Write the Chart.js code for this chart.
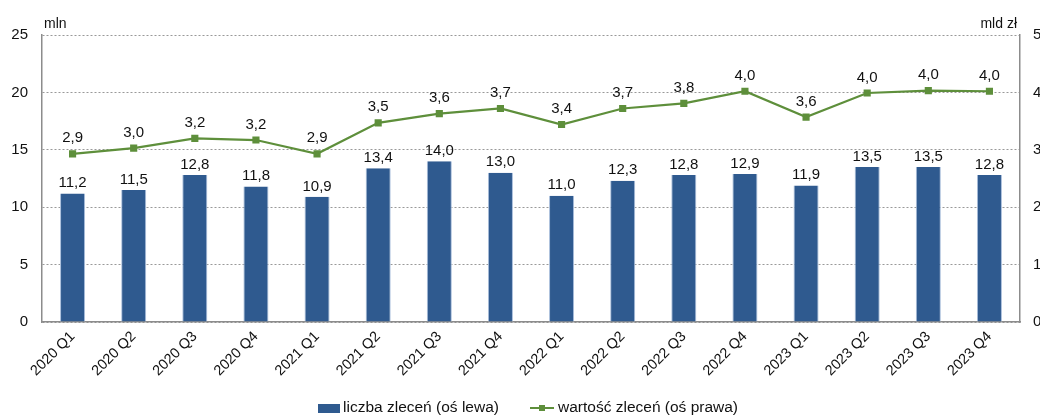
<!DOCTYPE html>
<html>
<head>
<meta charset="utf-8">
<script src="https://cdn.jsdelivr.net/npm/chart.js@4/dist/chart.umd.min.js"></script>
<style>
  html, body { margin: 0; padding: 0; background: #fff; overflow: hidden; }
  #wrap { width: 1050px; height: 417px; }
</style>
</head>
<body>
<div id="wrap"><canvas id="myChart" width="1050" height="417"></canvas></div>
<script>
const labels = ["2020 Q1", "2020 Q2", "2020 Q3", "2020 Q4", "2021 Q1", "2021 Q2", "2021 Q3", "2021 Q4",
                "2022 Q1", "2022 Q2", "2022 Q3", "2022 Q4", "2023 Q1", "2023 Q2", "2023 Q3", "2023 Q4"];
const liczba = [11.2, 11.5, 12.8, 11.8, 10.9, 13.4, 14.0, 13.0, 11.0, 12.3, 12.8, 12.9, 11.9, 13.5, 13.5, 12.8];
const wartosc = [2.93, 3.03, 3.20, 3.17, 2.93, 3.47, 3.63, 3.72, 3.44, 3.72, 3.81, 4.02, 3.57, 3.99, 4.03, 4.02];
const leftTicks = [0, 5, 10, 15, 20, 25];
const rightTicks = [0, 1, 2, 3, 4, 5];

const barColor = "#2F5A8F";
const lineColor = "#5E8F3B";
const FONT = "'Liberation Sans', Arial, sans-serif";

function fmt(v) {
  return v.toFixed(1).replace(".", ",");
}

// value labels, unit titles and the legend
const extras = {
  id: "extras",
  afterDatasetsDraw(chart) {
    const ctx = chart.ctx;
    const area = chart.chartArea;
    ctx.save();
    ctx.fillStyle = "#111";
    ctx.font = "15px " + FONT;
    ctx.textAlign = "center";
    ctx.textBaseline = "bottom";
    // dataset 1 = bars, dataset 0 = line
    chart.getDatasetMeta(1).data.forEach((el, i) => {
      ctx.fillText(fmt(liczba[i]), el.x, el.y - 3);
    });
    chart.getDatasetMeta(0).data.forEach((el, i) => {
      ctx.fillText(fmt(wartosc[i]), el.x, el.y - 8);
    });

    ctx.font = "14px " + FONT;
    ctx.textAlign = "left";
    ctx.fillText("mln", area.left + 2, area.top - 4);
    ctx.textAlign = "right";
    ctx.fillText("mld zł", area.right - 3, area.top - 4);

    // legend
    const ly = 408;
    ctx.font = "15.5px " + FONT;
    ctx.textBaseline = "middle";
    ctx.textAlign = "left";
    ctx.fillStyle = barColor;
    ctx.fillRect(318, ly - 4, 22, 9);
    ctx.fillStyle = "#111";
    ctx.fillText("liczba zleceń (oś lewa)", 343, ly);
    ctx.strokeStyle = lineColor;
    ctx.lineWidth = 2;
    ctx.beginPath();
    ctx.moveTo(530, ly);
    ctx.lineTo(554, ly);
    ctx.stroke();
    ctx.fillStyle = lineColor;
    ctx.fillRect(539, ly - 3, 6, 6);
    ctx.fillStyle = "#111";
    ctx.fillText("wartość zleceń (oś prawa)", 558, ly);
    ctx.restore();
  }
};

new Chart("myChart", {
  type: "bar",
  data: {
    labels: labels,
    datasets: [
      {
        type: "line",
        label: "wartość zleceń (oś prawa)",
        data: wartosc,
        yAxisID: "y2",
        borderColor: lineColor,
        backgroundColor: lineColor,
        borderWidth: 2.2,
        pointStyle: "rect",
        pointRadius: 3.5,
        pointHoverRadius: 3.5,
        tension: 0,
        order: 0
      },
      {
        label: "liczba zleceń (oś lewa)",
        data: liczba,
        yAxisID: "y",
        backgroundColor: barColor,
        borderColor: "#A9BEDB",
        borderWidth: { left: 1, right: 1, top: 0, bottom: 0 },
        barPercentage: 0.41,
        categoryPercentage: 1.0,
        order: 1
      }
    ]
  },
  options: {
    responsive: false,
    animation: false,
    layout: { padding: { top: 35, left: 0, right: 0, bottom: 0 } },
    plugins: {
      legend: { display: false },
      tooltip: { enabled: false }
    },
    scales: {
      x: {
        grid: { display: false, drawTicks: false },
        border: { display: true, color: "#8C8C8C", width: 1.5 },
        ticks: {
          color: "#111",
          font: { size: 14.5, family: FONT },
          maxRotation: 45,
          minRotation: 45,
          padding: 6,
          autoSkip: false
        },
        afterFit(scale) { scale.height = 95; }
      },
      y: {
        position: "left",
        min: 0,
        max: 25,
        afterBuildTicks(scale) { scale.ticks = leftTicks.map(v => ({ value: v })); },
        grid: { color: "#999999", lineWidth: 1, drawTicks: false },
        border: { display: true, color: "#8C8C8C", width: 1.5, dash: [2, 2] },
        ticks: { color: "#111", font: { size: 15, family: FONT }, padding: 14 },
        afterFit(scale) { scale.width = 42; }
      },
      y2: {
        position: "right",
        min: 0,
        max: 5,
        afterBuildTicks(scale) { scale.ticks = rightTicks.map(v => ({ value: v })); },
        grid: { display: false, drawTicks: false },
        border: { display: true, color: "#8C8C8C", width: 1.5 },
        ticks: { color: "#111", font: { size: 15, family: FONT }, padding: 13 },
        afterFit(scale) { scale.width = 30; }
      }
    }
  },
  plugins: [extras]
});
</script>
</body>
</html>
